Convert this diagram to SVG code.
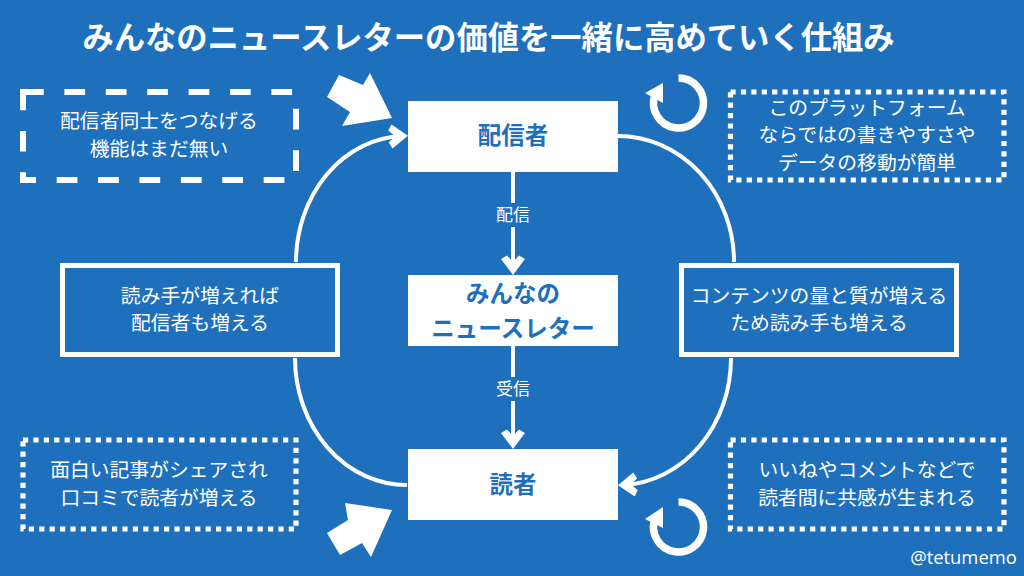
<svg xmlns="http://www.w3.org/2000/svg" width="1024" height="576" viewBox="0 0 1024 576">
<defs>
<marker id="ah" markerUnits="userSpaceOnUse" markerWidth="24" markerHeight="26" refX="14" refY="12" orient="auto"><path d="M20 12L4 0L0.500 6L7 12L0.500 18L4 24Z" fill="#fff"/></marker>
</defs>
<style>
text{font-family:"Noto Sans CJK JP","Liberation Sans",sans-serif;fill:#fff;text-anchor:middle;font-size:19.8px}
.b{font-weight:700;fill:#1f70bc;font-size:23.5px}
.box{fill:#fff}
.sq{fill:none;stroke:#fff;stroke-width:5}
.da{fill:none;stroke:#fff;stroke-width:6;stroke-dasharray:20.7 20.7}
.do{fill:none;stroke:#fff;stroke-width:5.2;stroke-dasharray:5.2 5.2}
.c{fill:none;stroke:#fff;stroke-width:4}
.r{fill:none;stroke:#fff;stroke-width:7.5}
.lab{font-size:17px}
</style>
<rect width="1024" height="576" fill="#1f70bc"/>
<text x="488.5" y="49" style="font-size:31.3px;font-weight:700">みんなのニュースレターの価値を一緒に高めていく仕組み</text>
<g id="connectors">
<path class="c" d="M296 262A110 126 0 0 1 402 136" marker-end="url(#ah)"/>
<path class="c" d="M618 136A116 126 0 0 1 734 262"/>
<path class="c" d="M731 358A113 127 0 0 1 624 485" marker-end="url(#ah)"/>
<path class="c" d="M295 358A112 127 0 0 0 407 485"/>
<path class="c" d="M513 172V269" marker-end="url(#ah)"/>
<path class="c" d="M513 346V443" marker-end="url(#ah)"/>
<rect x="490" y="203" width="46" height="24" fill="#1f70bc"/>
<rect x="490" y="377" width="46" height="24" fill="#1f70bc"/>
<text class="lab" x="513" y="221">配信</text>
<text class="lab" x="513" y="395">受信</text>
</g>
<g id="n-haishin"><rect class="box" x="408" y="101" width="210" height="71"/><text class="b" x="513" y="144">配信者</text></g>
<g id="n-news"><rect class="box" x="408" y="275" width="210" height="71"/><text class="b" x="513" y="302">みんなの</text><text class="b" x="513" y="337">ニュースレター</text></g>
<g id="n-dokusha"><rect class="box" x="408" y="449" width="210" height="71"/><text class="b" x="513" y="493">読者</text></g>
<g id="n-left"><rect class="sq" x="62.5" y="265.5" width="275" height="89"/><text x="200" y="303">読み手が増えれば</text><text x="200" y="330">配信者も増える</text></g>
<g id="n-right"><rect class="sq" x="681.5" y="265.5" width="275" height="89"/><text x="819" y="303">コンテンツの量と質が増える</text><text x="819" y="330">ため読み手も増える</text></g>
<g id="n-tl"><rect class="da" x="23" y="92" width="273" height="88"/><text x="159" y="128">配信者同士をつなげる</text><text x="159" y="156">機能はまだ無い</text></g>
<g id="n-tr"><rect class="do" x="730.5" y="92" width="273.5" height="88"/><text x="867" y="115">このプラットフォーム</text><text x="867" y="142">ならではの書きやすさや</text><text x="867" y="170">データの移動が簡単</text></g>
<g id="n-bl"><rect class="do" x="23" y="440" width="273" height="89"/><text x="159" y="477">面白い記事がシェアされ</text><text x="159" y="505">口コミで読者が増える</text></g>
<g id="n-br"><rect class="do" x="730.5" y="440" width="273.5" height="89"/><text x="867" y="477">いいねやコメントなどで</text><text x="867" y="505">読者間に共感が生まれる</text></g>
<g id="deco">
<polygon points="392,118 370,73 363,85 339,75 327,97 350,112 342,126" fill="#fff"/>
<polygon points="392,510 345,503 348,520 327,533 340,555 362,543 371,557" fill="#fff"/>
<path class="r" d="M678.500 78A25 25 0 1 1 654.500 96"/>
<polygon points="645,93 663,83 663,103" fill="#fff"/>
<path class="r" d="M678.500 502A25 25 0 1 1 654.500 520"/>
<polygon points="645,519 663,507 663,528" fill="#fff"/>
<text x="963.500" y="564" style="font-size:18.400px;font-family:'Open Sans','Liberation Sans',sans-serif">@tetumemo</text>
</g>
</svg>
